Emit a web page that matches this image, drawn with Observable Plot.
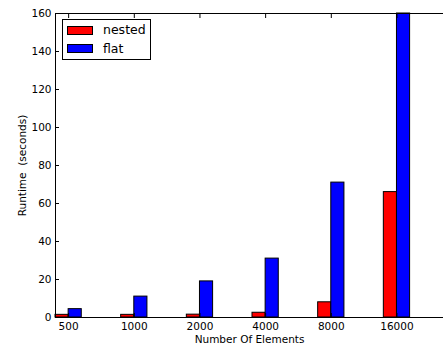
<!DOCTYPE html>
<html>
<head>
<meta charset="utf-8">
<script src="https://cdn.jsdelivr.net/npm/d3@7"></script>
<script src="https://cdn.jsdelivr.net/npm/@observablehq/plot@0.6"></script>
<style>
  html, body { margin: 0; padding: 0; background: #fff; overflow: hidden; }
  #wrap { position: relative; width: 443px; height: 347px; overflow: hidden; font-family: "DejaVu Sans", sans-serif; }
  #legend { position: absolute; left: 62px; top: 19px; width: 89px; height: 41px; box-sizing: border-box; border: 1px solid #000; background: #fff; }
  .row { position: absolute; left: 4px; height: 10px; display: flex; align-items: center; }
  .sw { width: 26px; height: 9px; box-sizing: border-box; border: 1px solid #000; }
  .lab { margin-left: 10px; font-size: 12.5px; line-height: 10px; color: #000; }
  svg text { white-space: pre; }
</style>
</head>
<body>
<div id="wrap"></div>
<script>
const categories = ["500", "1000", "2000", "4000", "8000", "16000"];
const series = ["nested", "flat"];
const nested = [1.4, 1.4, 1.5, 2.5, 8, 66];
const flat = [4.4, 11, 19, 31, 71, 160];
const colors = ["#ff0000", "#0000ff"];
const yTicks = [0, 20, 40, 60, 80, 100, 120, 140, 160];

const barWidth = 0.2;
const data = categories.flatMap((c, i) => [
  {cat: c, series: "nested", x1: i, x2: i + barWidth, value: nested[i]},
  {cat: c, series: "flat", x1: i + barWidth, x2: i + 2 * barWidth, value: flat[i]}
]);
const xTicks = categories.map((c, i) => i + barWidth);

const chart = Plot.plot({
  width: 443,
  height: 347,
  marginLeft: 55,
  marginRight: 0,
  marginTop: 13,
  marginBottom: 30,
  style: {fontFamily: "DejaVu Sans, sans-serif", fontSize: "10.5px", color: "#000", background: "#fff"},
  x: {domain: [0, 6], range: [55, 449]},
  y: {domain: [0, 160]},
  color: {domain: series, range: colors},
  marks: [
    Plot.rect(data, {x1: "x1", x2: "x2", y1: 0, y2: "value", fill: "series", stroke: "#000", strokeWidth: 1}),
    Plot.frame({stroke: "#000", strokeWidth: 1}),
    Plot.axisX({anchor: "bottom", ticks: xTicks, tickSize: 0, tickPadding: 5,
      tickFormat: (d, i) => categories[i], label: "Number Of Elements", labelArrow: "none", labelAnchor: "center", labelOffset: 25}),
    Plot.axisX({anchor: "bottom", ticks: xTicks, tickSize: -4, tickFormat: () => "", label: null}),
    Plot.axisX({anchor: "top", ticks: xTicks, tickSize: -4, tickFormat: () => "", label: null}),
    Plot.axisY({anchor: "left", ticks: yTicks, tickSize: 0, tickPadding: 4,
      label: "Runtime  (seconds)", labelArrow: "none", labelAnchor: "center", labelOffset: 37}),
    Plot.axisY({anchor: "left", ticks: yTicks, tickSize: -4, tickFormat: () => "", label: null})
  ]
});

const wrap = document.getElementById("wrap");
wrap.appendChild(chart);

const legend = document.createElement("div");
legend.id = "legend";
series.forEach((s, i) => {
  const row = document.createElement("div");
  row.className = "row";
  row.style.top = (5 + i * 18.7) + "px";
  const sw = document.createElement("div");
  sw.className = "sw";
  sw.style.background = colors[i];
  const lab = document.createElement("span");
  lab.className = "lab";
  lab.textContent = s;
  row.appendChild(sw);
  row.appendChild(lab);
  legend.appendChild(row);
});
wrap.appendChild(legend);
</script>
</body>
</html>
